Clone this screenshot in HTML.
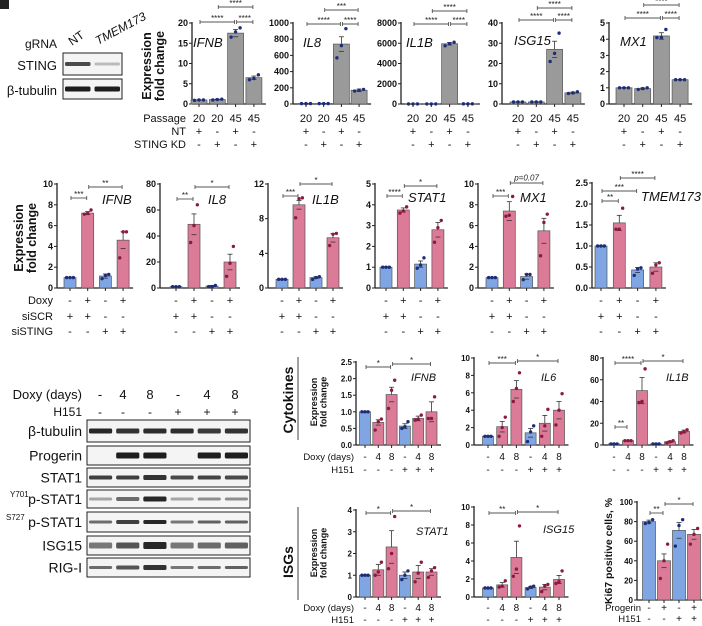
<!DOCTYPE html>
<html><head><meta charset="utf-8"><style>
html,body{margin:0;padding:0;background:#fff}
svg{display:block;font-family:"Liberation Sans",Arial,sans-serif}
</style></head><body>
<svg id="fig" width="702" height="626" viewBox="0 0 702 626" xmlns="http://www.w3.org/2000/svg">
<g id="static"></g>
</svg>
<script>
// ---------- DATA ----------
// Row 1 (passage / STING KD)
const r1Cats = ["20","20","45","45"];
const r1NT = ["+","-","+","-"];
const r1KD = ["-","+","-","+"];
const r1IFNB = [1.0, 1.1, 17.5, 6.5];
const r1IFNBerr = [0.05, 0.1, 0.9, 0.4];
const r1IFNBdots = [[0.9,1.0,1.0],[1.0,1.1,1.2],[16.5,17.8,18.8],[6.0,6.3,7.2]];
const r1IL8 = [5, 5, 740, 170];
const r1IL8err = [2, 2, 90, 15];
const r1IL8dots = [[5,5,5],[5,5,5],[570,720,930],[160,170,180]];
const r1IL1B = [10, 10, 5950, 15];
const r1IL1Berr = [3, 3, 120, 3];
const r1IL1Bdots = [[10,10,10],[10,10,10],[5750,5950,6100],[15,15,15]];
const r1ISG15 = [1.0, 1.0, 27, 5.5];
const r1ISG15err = [0.1, 0.1, 4, 0.4];
const r1ISG15dots = [[1,1,1],[1,1,1],[21,25,35],[5.2,5.5,6]];
const r1MX1 = [1.0, 0.95, 4.2, 1.5];
const r1MX1err = [0.02, 0.04, 0.2, 0.02];
const r1MX1dots = [[1,1,1],[0.9,0.95,1.0],[4.1,4.1,4.6],[1.5,1.5,1.5]];
// Row 2 (Doxy / siSCR / siSTING)
const r2Doxy = ["-","+","-","+"];
const r2SCR = ["+","+","-","-"];
const r2STING = ["-","-","+","+"];
const r2IFNB = [1.0, 7.2, 1.15, 4.6];
const r2IFNBerr = [0.02, 0.15, 0.2, 0.8];
const r2IFNBdots = [[1,1,1],[7.1,7.2,7.5],[0.9,1.2,1.3],[2.9,5.4,5.4]];
const r2IL8 = [1, 49, 1.5, 20];
const r2IL8err = [0.2, 8, 0.5, 6];
const r2IL8dots = [[1,1,1],[35,48,64],[1,1,2],[9,19,32]];
const r2IL1B = [1.0, 9.6, 1.2, 5.8];
const r2IL1Berr = [0.02, 0.5, 0.1, 0.5];
const r2IL1Bdots = [[1,1,1],[8.1,10.3,10.4],[1,1.2,1.3],[4.9,6.2,6.3]];
const r2STAT1 = [1.0, 3.75, 1.15, 2.8];
const r2STAT1err = [0.02, 0.1, 0.15, 0.35];
const r2STAT1dots = [[1,1,1],[3.6,3.7,3.9],[0.95,1.1,1.45],[2.2,2.9,3.25]];
const r2MX1 = [1.0, 7.4, 1.1, 5.5];
const r2MX1err = [0.03, 0.9, 0.25, 1.2];
const r2MX1dots = [[1,1,1],[6.9,7.0,8.8],[0.8,1.3,1.3],[3.1,6.3,7.1]];
const r2TMEM = [1.0, 1.55, 0.43, 0.5];
const r2TMEMerr = [0.01, 0.18, 0.06, 0.1];
const r2TMEMdots = [[1,1,1],[1.4,1.4,1.9],[0.3,0.45,0.48],[0.35,0.55,0.6]];
// Bottom (Doxy days / H151)
const bDoxy = ["-","4","8","-","4","8"];
const bH151 = ["-","-","-","+","+","+"];
const bIFNB = [1.0, 0.68, 1.52, 0.57, 0.8, 1.0];
const bIFNBerr = [0.02, 0.08, 0.22, 0.07, 0.07, 0.3];
const bIFNBdots = [[1,1,1],[0.45,0.7,0.78],[1.1,1.65,1.95],[0.5,0.55,0.7],[0.75,0.78,0.9],[0.8,0.8,1.45]];
const bIL6 = [1.0, 2.1, 6.4, 1.4, 2.5, 4.0];
const bIL6err = [0.05, 0.6, 1.0, 0.5, 0.9, 1.0];
const bIL6dots = [[1,1,1],[1,2,3.2],[5,6.5,8.3],[0.4,1.5,2.2],[1,2.2,4.1],[2.3,4,5.9]];
const bIL1B = [1, 4, 50, 1, 3, 12.5];
const bIL1Berr = [0.2, 0.3, 12, 0.3, 0.7, 1.2];
const bIL1Bdots = [[1,1,1],[4,4,4],[39,40,70],[1,1,1],[2,3,4],[11,12,14]];
const bSTAT1 = [1.0, 1.25, 2.3, 1.0, 1.15, 1.15];
const bSTAT1err = [0.01, 0.25, 0.75, 0.15, 0.3, 0.15];
const bSTAT1dots = [[1,1,1],[1.0,1.15,1.6],[1.3,2.0,3.7],[0.8,1.0,1.2],[0.7,1.1,1.6],[0.9,1.2,1.35]];
const bISG15 = [1.0, 1.35, 4.4, 1.05, 1.1, 1.95];
const bISG15err = [0.02, 0.25, 1.8, 0.1, 0.3, 0.45];
const bISG15dots = [[1,1,1],[1.1,1.2,1.8],[2.3,3.1,7.9],[0.9,1.1,1.2],[0.6,1.2,1.4],[1.5,1.7,2.9]];
const kiProg = ["-","+","-","+"];
const kiH151 = ["-","-","+","+"];
const kiVals = [80, 40, 71, 67];
const kiErr = [1.5, 7, 8, 5];
const kiDots = [[78,79,82],[22,40,57],[55,76,82],[57,67,73]];
// tick labels
const tk_r1IFNB = [0,5,10,15,20];
const tk_r1IL8 = [0,200,400,600,800,1000];
const tk_r1IL1B = [0,2000,4000,6000,8000];
const tk_r1ISG15 = [0,10,20,30,40];
const tk_r1MX1 = [0,1,2,3,4,5];
const tk_r2IFNB = [0,2,4,6,8,10];
const tk_r2IL8 = [0,20,40,60,80];
const tk_r2IL1B = [0,4,8,12];
const tk_r2STAT1 = [0,1,2,3,4,5];
const tk_r2MX1 = [0,2,4,6,8,10];
const tk_r2TMEM = [0,0.5,1.0,1.5,2.0,2.5];
const tk_bIFNB = [0,0.5,1.0,1.5,2.0,2.5];
const tk_bIL6 = [0,2,4,6,8,10];
const tk_bIL1B = [0,20,40,60,80];
const tk_bSTAT1 = [0,1,2,3,4];
const tk_bISG15 = [0,2,4,6,8,10];
const tk_ki = [0,20,40,60,80,100];

// ---------- DRAW ----------
const NS = "http://www.w3.org/2000/svg";
const svg = document.getElementById('fig');
function mk(tag, attrs, parent, text){
  const e = document.createElementNS(NS, tag);
  for (const k in attrs) e.setAttribute(k, attrs[k]);
  if (text !== undefined) e.textContent = text;
  (parent || svg).appendChild(e);
  return e;
}
const GREY="#9a9a9a", BLUE="#7fa6e2", PINK="#db7b98", NAVY="#1d2d78", WINE="#8c1a40";

function chart(c){
  const g = mk('g', {});
  
  
  const y = v => c.base - (v / c.max) * (c.base - c.top);
  const x = i => c.x0 + i * c.dx;
  // axes
  const ax = mk('line', {x1:c.ax, y1:c.top-1, x2:c.ax, y2:c.base, stroke:"#222", 'stroke-width':1.3}, g);
  
  
  const xa = mk('line', {x1:c.ax, y1:c.base, x2:x(c.vals.length-1)+c.bw/2+4, y2:c.base, stroke:"#222", 'stroke-width':1.3}, g);
  
  
  c.ticks.forEach(t => {
    mk('line', {x1:c.ax-3, y1:y(t), x2:c.ax, y2:y(t), stroke:"#222", 'stroke-width':1}, g);
    const tl = mk('text', {x:c.ax-4, y:y(t)+3, 'text-anchor':'end', 'font-size':c.tfs||9, 'font-weight':'bold', fill:'#111'}, g, c.fmt ? t.toFixed(1) : String(t));
    
    
  });
  c.vals.forEach((v,i) => {
    const col = c.colors[i];
    const b = mk('rect', {x:x(i)-c.bw/2, y:y(v), width:c.bw, height:c.base-y(v), fill:col, stroke:'#555', 'stroke-width':0.7}, g);
    
    
    mk('line', {x1:x(i), y1:y(v+c.err[i]), x2:x(i), y2:y(v), stroke:'#333', 'stroke-width':0.8}, g);
    mk('line', {x1:x(i)-2.5, y1:y(v+c.err[i]), x2:x(i)+2.5, y2:y(v+c.err[i]), stroke:'#333', 'stroke-width':0.8}, g);
    mk('line', {x1:x(i)-2.5, y1:y(Math.max(0,v-c.err[i])), x2:x(i)+2.5, y2:y(Math.max(0,v-c.err[i])), stroke:'#333', 'stroke-width':0.8}, g);
    const dc = c.dotColors[i];
    c.dots[i].forEach((d,k) => {
      const p = mk('circle', {cx:x(i)+(k-1)*c.bw*0.28, cy:y(d), r:1.7, fill:dc}, g);
      
      
    });
    // tick on x axis
    mk('line', {x1:x(i), y1:c.base, x2:x(i), y2:c.base+3, stroke:'#222','stroke-width':1}, g);
  });
  // category rows
  c.rows.forEach((r,ri) => {
    r.forEach((s,i) => {
      const t = mk('text', {x:x(i), y:c.rowY[ri], 'text-anchor':'middle', 'font-size':c.rfs||10, fill:'#111'}, g, s);
      
      
    });
  });
  // gene label
  const gl = mk('text', {x:c.lx, y:c.ly, 'font-size':c.lfs||12, 'font-style':'italic', fill:'#111'}, g, c.label);
  
  
  // brackets
  (c.br||[]).forEach(b => {
    const [i,j,yy,txt] = b;
    const x1 = x(i)+1, x2 = x(j)-1;
    mk('line', {x1:x1, y1:yy, x2:x2, y2:yy, stroke:'#555','stroke-width':0.9}, g);
    mk('line', {x1:x1, y1:yy-2, x2:x1, y2:yy+2, stroke:'#555','stroke-width':0.9}, g);
    mk('line', {x1:x2, y1:yy-2, x2:x2, y2:yy+2, stroke:'#555','stroke-width':0.9}, g);
    const st = mk('text', {x:(x1+x2)/2, y:txt[0]==='p'?yy-2.5:yy-1, 'text-anchor':'middle', 'font-size':txt[0]==='p'?8:8, 'font-style':txt[0]==='p'?'italic':'normal', fill:'#222'}, g, txt);
    
    
  });
}

const G4 = [GREY,GREY,GREY,GREY], N4=[NAVY,NAVY,NAVY,NAVY];
const BP4 = [BLUE,PINK,BLUE,PINK], NW4=[NAVY,WINE,NAVY,WINE];
const B6 = [BLUE,PINK,PINK,BLUE,PINK,PINK], N6=[NAVY,WINE,WINE,NAVY,WINE,WINE];
const r1rows = [r1Cats, r1NT, r1KD], r1Y=[122,135,148];
const r1 = {top:23, base:104, bw:16, colors:G4, dotColors:N4, rows:r1rows, rowY:r1Y, lfs:13, rfs:11};
chart(Object.assign({}, r1, {name:'chart-row1-ifnb', ax:192, x0:199, dx:18.3, max:20, ticks:tk_r1IFNB, vals:r1IFNB, err:r1IFNBerr, dots:r1IFNBdots, label:'IFNB', lx:193, ly:47, br:[[0,2,22,'****'],[2,3,22,'****'],[1,3,7,'****']]}));
chart(Object.assign({}, r1, {name:'chart-row1-il8', ax:293, x0:306, dx:17.7, max:1000, ticks:tk_r1IL8, vals:r1IL8, err:r1IL8err, dots:r1IL8dots, label:'IL8', lx:303, ly:47, br:[[0,2,24,'****'],[2,3,24,'****'],[1,3,10,'***']]}));
chart(Object.assign({}, r1, {name:'chart-row1-il1b', ax:401, x0:413, dx:18.3, max:8000, ticks:tk_r1IL1B, vals:r1IL1B, err:r1IL1Berr, dots:r1IL1Bdots, label:'IL1B', lx:406, ly:47, br:[[0,2,24,'****'],[2,3,24,'****'],[1,3,11,'****']]}));
chart(Object.assign({}, r1, {name:'chart-row1-isg15', ax:502, x0:518, dx:18.3, max:40, ticks:tk_r1ISG15, vals:r1ISG15, err:r1ISG15err, dots:r1ISG15dots, label:'ISG15', lx:514, ly:45, br:[[0,2,20,'****'],[2,3,20,'****'],[1,3,8,'****']]}));
chart(Object.assign({}, r1, {name:'chart-row1-mx1', ax:609, x0:624, dx:18.7, max:5, ticks:tk_r1MX1, vals:r1MX1, err:r1MX1err, dots:r1MX1dots, label:'MX1', lx:620, ly:46, br:[[0,2,18,'****'],[2,3,18,'****'],[1,3,5,'****']]}));

const r2rows = [r2Doxy, r2SCR, r2STING], r2Y=[304,320,335];
const r2 = {top:184, base:288, bw:12, colors:BP4, dotColors:NW4, rows:r2rows, rowY:r2Y, lfs:13, rfs:11};
chart(Object.assign({}, r2, {name:'chart-row2-ifnb', ax:57, x0:70, dx:17.7, max:10, ticks:tk_r2IFNB, vals:r2IFNB, err:r2IFNBerr, dots:r2IFNBdots, label:'IFNB', lx:102, ly:204, br:[[0,1,198,'***'],[1,3,187,'**']]}));
chart(Object.assign({}, r2, {name:'chart-row2-il8', ax:160, x0:176, dx:18, max:80, ticks:tk_r2IL8, vals:r2IL8, err:r2IL8err, dots:r2IL8dots, label:'IL8', lx:208, ly:204, br:[[0,1,199,'**'],[1,3,187,'*']]}));
chart(Object.assign({}, r2, {name:'chart-row2-il1b', ax:268, x0:282, dx:17, max:12, ticks:tk_r2IL1B, vals:r2IL1B, err:r2IL1Berr, dots:r2IL1Bdots, label:'IL1B', lx:312, ly:204, br:[[0,1,196,'***'],[1,3,184,'*']]}));
chart(Object.assign({}, r2, {name:'chart-row2-stat1', ax:375, x0:386, dx:17.3, max:5, ticks:tk_r2STAT1, vals:r2STAT1, err:r2STAT1err, dots:r2STAT1dots, label:'STAT1', lx:408, ly:202, br:[[0,1,196,'****'],[1,3,186,'*']]}));
chart(Object.assign({}, r2, {name:'chart-row2-mx1', ax:478, x0:492, dx:17.3, max:10, ticks:tk_r2MX1, vals:r2MX1, err:r2MX1err, dots:r2MX1dots, label:'MX1', lx:520, ly:202, br:[[0,1,196,'***'],[1,3,183,'p=0.07']]}));
chart(Object.assign({}, r2, {name:'chart-row2-tmem173', ax:592, x0:601, dx:18.3, max:2.5, top:183, fmt:true, ticks:tk_r2TMEM, vals:r2TMEM, err:r2TMEMerr, dots:r2TMEMdots, label:'TMEM173', lx:641, ly:201, br:[[0,1,201,'**'],[0,2,191,'***'],[1,3,178,'****']]}));

const bc = {bw:11, colors:B6, dotColors:N6, rows:[bDoxy,bH151], lfs:11, rfs:10, tfs:8};
chart(Object.assign({}, bc, {name:'chart-cytokines-ifnb', top:362, base:445, rowY:[460,473], ax:356, x0:365, dx:13.3, max:2.5, fmt:true, ticks:tk_bIFNB, vals:bIFNB, err:bIFNBerr, dots:bIFNBdots, label:'IFNB', lx:411, ly:381, br:[[0,2,367,'*'],[2,5,364,'*']]}));
chart(Object.assign({}, bc, {name:'chart-cytokines-il6', top:358, base:445, rowY:[460,473], ax:474, x0:488, dx:14.2, max:10, ticks:tk_bIL6, vals:bIL6, err:bIL6err, dots:bIL6dots, label:'IL6', lx:541, ly:381, br:[[0,2,363,'***'],[2,5,361,'*']]}));
chart(Object.assign({}, bc, {name:'chart-cytokines-il1b', top:358, base:445, rowY:[460,473], ax:603, x0:614, dx:14, max:80, ticks:tk_bIL1B, vals:bIL1B, err:bIL1Berr, dots:bIL1Bdots, label:'IL1B', lx:666, ly:381, br:[[0,2,363,'****'],[2,5,361,'*'],[0,1,427,'**']]}));
chart(Object.assign({}, bc, {name:'chart-isgs-stat1', top:510, base:597, rowY:[611,623], ax:356, x0:365, dx:13.3, max:4, ticks:tk_bSTAT1, vals:bSTAT1, err:bSTAT1err, dots:bSTAT1dots, label:'STAT1', lx:416, ly:535, br:[[0,2,513,'*'],[2,5,511,'*']]}));
chart(Object.assign({}, bc, {name:'chart-isgs-isg15', top:507, base:597, rowY:[611,623], ax:474, x0:488, dx:14.2, max:10, ticks:tk_bISG15, vals:bISG15, err:bISG15err, dots:bISG15dots, label:'ISG15', lx:543, ly:533, br:[[0,2,513,'**'],[2,5,512,'*']]}));
chart(Object.assign({}, bc, {name:'chart-ki67', top:502, base:600, bw:13, colors:BP4, dotColors:NW4, rows:[kiProg,kiH151], rowY:[611,622], ax:637, x0:649, dx:15, max:100, ticks:tk_ki, vals:kiVals, err:kiErr, dots:kiDots, label:'', lx:0, ly:0, br:[[0,1,513,'**'],[1,3,504,'*']]}));

// ---------- STATIC LABELS ----------
const S = document.getElementById('static');
function T(x,y,s,opt){
  const a = Object.assign({x:x, y:y, 'font-size':11, fill:'#111'}, opt||{});
  const t = mk('text', a, S, s);
  return t;
}
function L(x1,y1,x2,y2,w){ return mk('line',{x1,y1,x2,y2,stroke:'#444','stroke-width':w||1},S); }
// panel letter
let t;
t = mk('rect',{x:0,y:0,width:9,height:9,fill:'#222'},S);  
// Top-left blot
t=T(57,48,'gRNA',{'text-anchor':'end','font-size':12});  
t=T(72,46,'NT',{'font-size':12,transform:'rotate(-35 72 46)'});  
t=T(98,45,'TMEM173',{'font-size':12,'font-style':'italic',transform:'rotate(-28 98 45)'});  
t=T(57,70,'STING',{'text-anchor':'end','font-size':13});  
t=T(57,95,'β-tubulin',{'text-anchor':'end','font-size':13});  
function blot(x,y,w,h,bands,name){
  const g = mk('g',{},S);
  
  
  mk('rect',{x:x,y:y,width:w,height:h,fill:'#f4f4f4',stroke:'#222','stroke-width':1},g);
  const lw = w / bands.length;
  bands.forEach((b,i) => {
    if (b[0] > 0) mk('rect',{x:x+i*lw+2,y:y+h/2-b[1]/2,width:lw-4,height:b[1],rx:1.5,fill:'#111','fill-opacity':b[0]},g);
  });
}
blot(63,53,59,22,[[0.75,4],[0.25,3]],'sting-blot');
blot(63,79,59,20,[[0.95,5],[0.95,5]],'tubulin-blot-top');
// bottom blot
t=T(82,399,'Doxy (days)',{'text-anchor':'end','font-size':13});  
t=T(82,416,'H151',{'text-anchor':'end','font-size':12});  
const laneX=[100,123,150,178,207,235], lDoxy=['-','4','8','-','4','8'], lH=['-','-','-','+','+','+'];
laneX.forEach((lx,i)=>{ T(lx,399,lDoxy[i],{'text-anchor':'middle','font-size':13}); T(lx,416,lH[i],{'text-anchor':'middle','font-size':12}); });
const blotRows = [
 ['β-tubulin',420,22,[[0.9,5],[0.85,5],[0.88,5],[0.88,5],[0.82,5],[0.86,5]]],
 ['Progerin',446,19,[[0,4],[0.95,6],[0.95,6],[0,4],[0.95,6],[0.95,6]]],
 ['STAT1',468,19,[[0.8,4],[0.8,4],[0.85,5],[0.75,4],[0.78,4],[0.75,4]]],
 ['p-STAT1',490,18,[[0.35,3],[0.6,4],[0.9,5],[0.35,3],[0.45,3],[0.45,3]]],
 ['p-STAT1',512,20,[[0.6,3],[0.8,4],[0.9,4],[0.55,3],[0.65,3],[0.65,3]]],
 ['ISG15',536,19,[[0.55,6],[0.7,6],[0.9,7],[0.55,6],[0.6,6],[0.65,6]]],
 ['RIG-I',558,19,[[0.6,3],[0.7,4],[0.85,5],[0.55,3],[0.6,3],[0.65,3]]]
];
blotRows.forEach((r,i)=>{
  const lt=T(82,r[1]+r[2]/2+5,r[0],{'text-anchor':'end','font-size':14});  
  blot(87,r[1],163,r[2],r[3],'blot-'+r[0].toLowerCase()+'-'+i);
});
T(10,497,'Y701',{'font-size':8}); T(6,520,'S727',{'font-size':8});
// Row labels
[['Passage',122],['NT',135],['STING KD',148]].forEach(a=>{ const q=T(186,a[1],a[0],{'text-anchor':'end','font-size':11});   });
[['Doxy',304],['siSCR',320],['siSTING',335]].forEach(a=>{ const q=T(53,a[1],a[0],{'text-anchor':'end','font-size':11});   });
[['Doxy (days)',460],['H151',473],['Doxy (days)',611],['H151',623]].forEach(a=>{ const q=T(354,a[1],a[0],{'text-anchor':'end','font-size':9.5});   });
[['Progerin',611],['H151',622]].forEach(a=>{ const q=T(641,a[1],a[0],{'text-anchor':'end','font-size':9.5});   });
// Y axis titles
function ytitle(x,y,fs,name,l1,l2){
  const g=mk('g',{transform:`translate(${x} ${y}) rotate(-90)`},S);
   
  mk('text',{x:0,y:0,'text-anchor':'middle','font-size':fs,'font-weight':'bold',fill:'#111'},g,l1);
  if(l2) mk('text',{x:0,y:fs*1.05,'text-anchor':'middle','font-size':fs,'font-weight':'bold',fill:'#111'},g,l2);
}
ytitle(151,66,12.5,'y-axis-title-row1','Expression','fold change');
ytitle(23,238,12.5,'y-axis-title-row2','Expression','fold change');
ytitle(317,402,9,'y-axis-title-cytokines','Expression','fold change');
ytitle(317,553,9,'y-axis-title-isgs','Expression','fold change');
ytitle(612,551,10.5,'y-axis-title-ki67','Ki67 positive cells, %');
// Group labels
let gt=mk('text',{x:0,y:0,transform:'translate(293 400) rotate(-90)','text-anchor':'middle','font-size':14,'font-weight':'bold',fill:'#111'},S,'Cytokines');
 
gt=mk('text',{x:0,y:0,transform:'translate(293 562) rotate(-90)','text-anchor':'middle','font-size':14,'font-weight':'bold',fill:'#111'},S,'ISGs');
 
L(298,357,298,440,1); L(298,507,298,600,1);
</script>
</body></html>
